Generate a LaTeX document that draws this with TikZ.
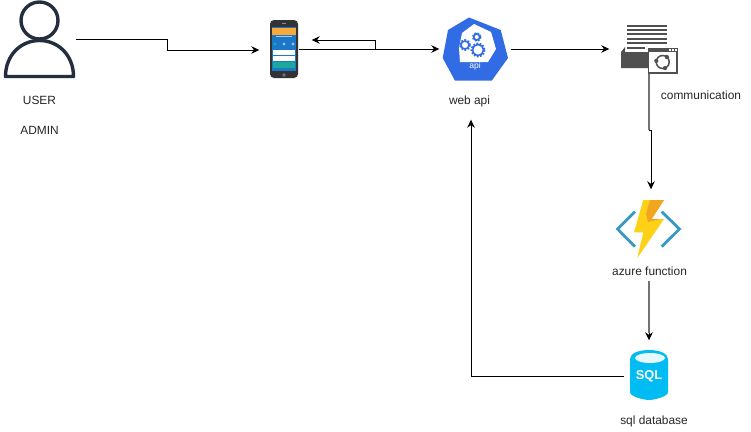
\documentclass[tikz,border=0pt]{standalone}
\usepackage{fontspec}
\setmainfont{Liberation Sans}
\usetikzlibrary{arrows.meta}
\definecolor{ink}{HTML}{232F3E}
\definecolor{kub}{HTML}{326CE5}
\definecolor{grey}{HTML}{505050}
\definecolor{azb}{HTML}{3999C6}
\definecolor{sqlb}{HTML}{00BCF2}
\definecolor{bolt}{HTML}{FCD116}
\definecolor{boltd}{HTML}{F2A51E}
\definecolor{screen}{HTML}{1B78C8}
\definecolor{tealb}{HTML}{1CA89A}
\definecolor{orangeb}{HTML}{F9A83B}
\tikzset{
  conn/.style={draw=black,line width=1pt,-{Stealth[length=8pt,width=7.5pt]}},
  greyconn/.style={draw=black!55,line width=1.5pt},
  lbl/.style={inner sep=0pt,font=\fontsize{11.9}{12}\selectfont,text=black!85},
  anchorpt/.style={inner sep=0pt,draw=none},
}
\begin{document}
\begin{tikzpicture}[x=1pt,y=-1pt]
\useasboundingbox[fill=white] (0,0) rectangle (751,431);
% user
\draw[ink,line width=3.4pt] (39.5,20.5) circle (18.5);
\draw[ink,line width=3.4pt,line join=round] (5.5,76.5) .. controls (5.5,55) and (21,40.5) .. (39.5,40.5) .. controls (58,40.5) and (73.5,55) .. (73.5,76.5) -- cycle;
% phone
\fill[black!80,rounded corners=4pt] (270,20) rectangle (298,78);
\fill[screen] (272,27) rectangle (296,71);
\fill[orangeb] (272,28) rectangle (296,34.5);
\draw[white!60!screen,line width=0.5pt] (276,36) -- (292,36);
\fill[tealb] (275,44) circle (1.6);
\fill[white!55!screen] (284,44) circle (1.6);
\fill[white!55!screen] (293,44) circle (1.6);
\fill[white] (273,50) rectangle (295,54.5);
\fill[white] (273,56) rectangle (295,60.5);
\fill[tealb] (273,62) rectangle (295,67.5);
\fill[black!55] (284,75) circle (1.8);
\draw[black!45,line width=0.6pt] (282,23.5) -- (286,23.5);
% api
\fill[kub] (469,17.5) -- (500.7,30) -- (508,58) -- (491.7,80.7) -- (455,80.7) -- (442.7,58) -- (448,30) -- cycle;
\fill[white] (474,24) -- (491,32) -- (496,49) -- (488,62) -- (460,62) -- (459,48) -- (462,33) -- cycle;
\node[inner sep=0pt,text=white,font=\fontsize{8.5}{9}\selectfont] at (475,66.5) {api};
\foreach \c/\r in {(465,45)/5,(478,50)/6.5,(476.7,37)/4}{
  \draw[kub,line width=1.6pt] \c circle (\r-1);
  \draw[kub,line width=1.8pt,dash pattern=on 1.7pt off 1.5pt] \c circle (\r);
}
% communication icon
\foreach \y in {25.7,30,34.3,39,43.3}{\fill[grey] (627,\y-1.1) rectangle (667,\y+1.1);}
\fill[grey] (627,47) rectangle (645,49);
\fill[grey] (621,68) -- (621,52) -- (625,47) -- (625,52) -- (648,52) -- (648,68) -- cycle;
\draw[grey,line width=1.2pt,fill=white] (648.5,49) rectangle (677,73);
\fill[grey] (648,48) rectangle (677.5,52);
\foreach \x in {669,672,675}{\fill[white] (\x,49.2) rectangle +(1.6,1.6);}
\draw[grey,line width=1.5pt] (662.7,62) circle (6.5);
\foreach \a in {70,190,310}{\fill[grey] (662.7,62) ++(\a:6.5) circle (2.1);}
% azure function
\draw[azb,line width=2.8pt] (635,211.7) -- (617.5,229) -- (635,246.7);
\draw[azb,line width=2.8pt] (661.7,211.7) -- (679.5,229) -- (661.7,246.7);
\fill[bolt] (643.3,200) -- (664,200) -- (651.7,219) -- (664,219) -- (637.3,258) -- (643.3,232.3) -- (634,232.3) -- cycle;
\fill[boltd] (650,200) -- (664,200) -- (651.7,219) -- (660,219) -- (648,222) -- (646,214) -- cycle;
% sql
\fill[sqlb] (630,359) -- (630,392) .. controls (630,397) and (645,400) .. (649,400) .. controls (653,400) and (668,397) .. (668,392) -- (668,359) .. controls (668,347) and (630,347) .. (630,359) -- cycle;
\fill[white!90!sqlb] (650,358) ellipse (15 and 5);
\node[inner sep=0pt,text=white,font=\bfseries\fontsize{12.8}{13}\selectfont] at (649,376.7) {SQL};
% anchor nodes
\node[anchorpt] (phoneout) at (298,49) {};
\node[anchorpt] (apiin) at (440,49) {};
\node[anchorpt] (apiout) at (510,49) {};
\node[anchorpt] (commin) at (610,49) {};
\node[anchorpt] (commout) at (649,73) {};
\node[anchorpt] (azin) at (651,190) {};
\node[anchorpt] (azout) at (649,280) {};
\node[anchorpt] (sqlin) at (649,341) {};
\node[anchorpt] (sqlout) at (625,376) {};
\node[anchorpt] (apibottom) at (471,119) {};
\node[anchorpt] (userout) at (75,39) {};
\node[anchorpt] (phonein) at (260,50) {};
\node[anchorpt] (phoneback) at (311,40) {};
% labels
\node[lbl] (luser) at (39.5,100.5) {USER};
\node[lbl] (ladmin) at (39.5,130) {ADMIN};
\node[lbl] (lapi) at (469.5,101) {web api};
\node[lbl] (lcomm) at (701,95) {communication};
\node[lbl] (laz) at (649.5,271) {azure function};
\node[lbl] (lsql) at (654,421) {sql database};
% connectors
\draw[conn] (userout) -- (167,39) -- (167,50) -- (phonein);
\draw[conn] (phoneout) -- (apiin);
\draw[conn] (375,49) -- (375,40) -- (phoneback);
\draw[conn] (apiout) -- (commin);
\draw[greyconn] (commout) -- (649,130);
\draw[conn] (649,130) -- (651,130) -- (azin);
\draw[greyconn] (azout) -- (649,333);
\draw[conn] (649,333) -- (sqlin);
\draw[conn] (sqlout) -- (471,376) -- (apibottom);
\end{tikzpicture}
\end{document}
